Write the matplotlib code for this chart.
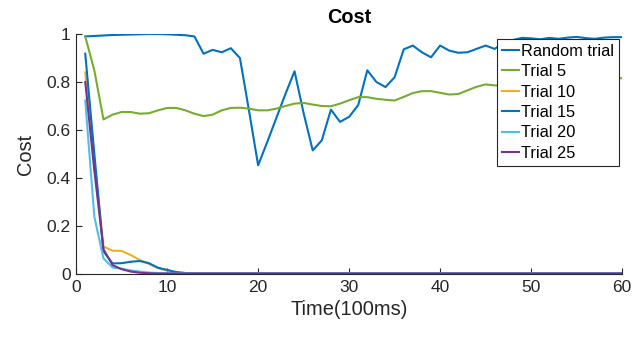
import matplotlib
matplotlib.use("Agg")
import matplotlib.pyplot as plt
import numpy as np

# time steps (100 ms each)
t = np.arange(1, 61)

random_trial = [
    0.990, 0.992, 0.994, 0.996, 0.997, 0.998, 0.999, 1.000, 1.000, 0.999, 0.997, 0.995,
    0.990, 0.918, 0.934, 0.924, 0.941, 0.900, 0.680, 0.453, 0.550, 0.650, 0.750, 0.845,
    0.670, 0.515, 0.557, 0.685, 0.634, 0.655, 0.704, 0.849, 0.800, 0.779, 0.820, 0.936,
    0.952, 0.924, 0.903, 0.952, 0.931, 0.922, 0.924, 0.938, 0.952, 0.938, 0.965, 0.975,
    0.984, 0.982, 0.978, 0.984, 0.980, 0.985, 0.988, 0.983, 0.980, 0.985, 0.987, 0.987,
]
trial_5 = [
    0.990, 0.848, 0.644, 0.664, 0.675, 0.675, 0.668, 0.670, 0.682, 0.692, 0.692, 0.682,
    0.668, 0.658, 0.664, 0.682, 0.692, 0.693, 0.689, 0.682, 0.682, 0.689, 0.700, 0.710,
    0.713, 0.706, 0.700, 0.699, 0.710, 0.724, 0.737, 0.737, 0.730, 0.726, 0.723, 0.738,
    0.754, 0.762, 0.762, 0.755, 0.748, 0.750, 0.765, 0.780, 0.790, 0.786, 0.785, 0.790,
    0.795, 0.800, 0.805, 0.800, 0.805, 0.810, 0.812, 0.810, 0.815, 0.818, 0.816, 0.816,
]
trial_10 = [
    0.840, 0.470, 0.114, 0.097, 0.096, 0.079, 0.058, 0.042, 0.024, 0.014, 0.006, 0.004,
    0.003, 0.003, 0.003, 0.003, 0.003, 0.003, 0.003, 0.003, 0.003, 0.003, 0.003, 0.003,
    0.003, 0.003, 0.003, 0.003, 0.003, 0.003, 0.003, 0.003, 0.003, 0.003, 0.003, 0.003,
    0.003, 0.003, 0.003, 0.003, 0.003, 0.003, 0.003, 0.003, 0.003, 0.003, 0.003, 0.003,
    0.003, 0.003, 0.003, 0.003, 0.003, 0.003, 0.003, 0.003, 0.003, 0.003, 0.003, 0.003,
]
trial_15 = [
    0.918, 0.500, 0.095, 0.044, 0.045, 0.051, 0.054, 0.045, 0.026, 0.017, 0.008, 0.004,
    0.003, 0.003, 0.003, 0.003, 0.003, 0.003, 0.003, 0.003, 0.003, 0.003, 0.003, 0.003,
    0.003, 0.003, 0.003, 0.003, 0.003, 0.003, 0.003, 0.003, 0.003, 0.003, 0.003, 0.003,
    0.003, 0.003, 0.003, 0.003, 0.003, 0.003, 0.003, 0.003, 0.003, 0.003, 0.003, 0.003,
    0.003, 0.003, 0.003, 0.003, 0.003, 0.003, 0.003, 0.003, 0.003, 0.003, 0.003, 0.003,
]
trial_20 = [
    0.723, 0.238, 0.065, 0.027, 0.022, 0.015, 0.010, 0.006, 0.004, 0.003, 0.003, 0.003,
    0.003, 0.003, 0.003, 0.003, 0.003, 0.003, 0.003, 0.003, 0.003, 0.003, 0.003, 0.003,
    0.003, 0.003, 0.003, 0.003, 0.003, 0.003, 0.003, 0.003, 0.003, 0.003, 0.003, 0.003,
    0.003, 0.003, 0.003, 0.003, 0.003, 0.003, 0.003, 0.003, 0.003, 0.003, 0.003, 0.003,
    0.003, 0.003, 0.003, 0.003, 0.003, 0.003, 0.003, 0.003, 0.003, 0.003, 0.003, 0.003,
]
trial_25 = [
    0.800, 0.430, 0.103, 0.037, 0.020, 0.010, 0.005, 0.003, 0.002, 0.002, 0.002, 0.002,
    0.002, 0.002, 0.002, 0.002, 0.002, 0.002, 0.002, 0.002, 0.002, 0.002, 0.002, 0.002,
    0.002, 0.002, 0.002, 0.002, 0.002, 0.002, 0.002, 0.002, 0.002, 0.002, 0.002, 0.002,
    0.002, 0.002, 0.002, 0.002, 0.002, 0.002, 0.002, 0.002, 0.002, 0.002, 0.002, 0.002,
    0.002, 0.002, 0.002, 0.002, 0.002, 0.002, 0.002, 0.002, 0.002, 0.002, 0.002, 0.002,
]

series = [random_trial, trial_5, trial_10, trial_15, trial_20, trial_25]
labels = ["Random trial", "Trial 5", "Trial 10", "Trial 15", "Trial 20", "Trial 25"]
colors = ["#0072BD", "#77AC30", "#EDB120", "#0072BD", "#4DBEEE", "#7E2F8E"]

xticks = [0, 10, 20, 30, 40, 50, 60]
yticks = [0, 0.2, 0.4, 0.6, 0.8, 1]
ytick_labels = ["0", "0.2", "0.4", "0.6", "0.8", "1"]

plt.rcParams['font.family'] = ['Liberation Sans', 'DejaVu Sans']

fig = plt.figure(figsize=(6.4, 3.37), dpi=100)
ax = fig.add_axes([0.119, 0.187, 0.853, 0.712])

for y, lab, c in zip(series, labels, colors):
    ax.plot(t, y, color=c, lw=1.5, label=lab)

ax.set_xlim(0, 60)
ax.set_ylim(0, 1)
ax.set_xticks(xticks)
ax.set_yticks(yticks)
ax.set_yticklabels(ytick_labels)

axcol = "#262626"
for side in ["top", "right"]:
    ax.spines[side].set_visible(False)
for side in ["left", "bottom"]:
    ax.spines[side].set_color(axcol)
    ax.spines[side].set_linewidth(0.8)
ax.tick_params(direction="in", length=4, width=0.8, color=axcol,
               labelsize=12.5, labelcolor="#262626", pad=4)

ax.set_title("Cost", fontsize=14.3, fontweight="bold", pad=8)
ax.set_xlabel("Time(100ms)", fontsize=14.4, color="#262626", labelpad=4)
ax.set_ylabel("Cost", fontsize=14.4, color="#262626", labelpad=8)

# legend sits in the upper right corner, drawn over the top lines
leg = ax.legend(loc="upper right", bbox_to_anchor=(0.994, 0.98), borderaxespad=0,
                fontsize=11.8, handlelength=1.05, handletextpad=0.12, labelspacing=0.33,
                borderpad=0.3, fancybox=False, framealpha=1)
leg.get_frame().set_edgecolor(axcol)
leg.get_frame().set_linewidth(0.8)

fig.savefig("out.png", dpi=100)
